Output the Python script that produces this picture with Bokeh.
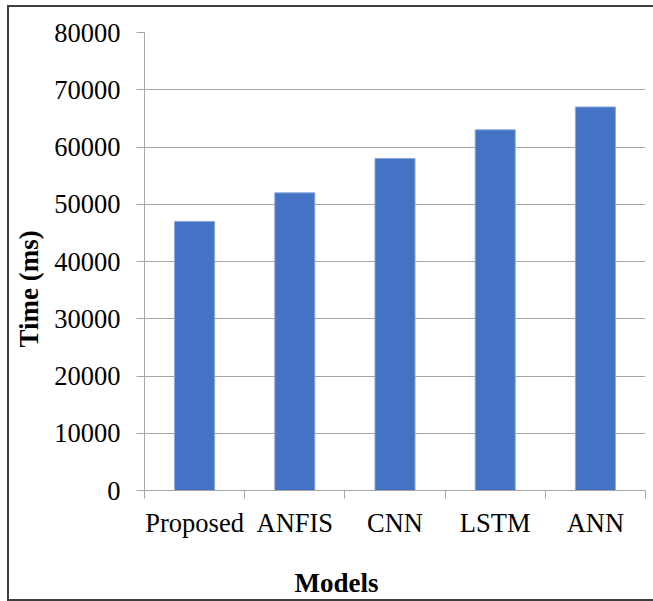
from bokeh.plotting import figure
from bokeh.models import Range1d, FixedTicker, LinearAxis, NumeralTickFormatter, Title
from bokeh.embed import file_html
from bokeh.resources import INLINE

# Execution time of each model
models = ["Proposed", "ANFIS", "CNN", "LSTM", "ANN"]
times_ms = [47000, 52000, 58000, 63000, 67000]
y_ticks = [0, 10000, 20000, 30000, 40000, 50000, 60000, 70000, 80000]

FONT = "Liberation Serif"
GRID = "#a6a6a6"
TICK_SIZE = "26.5px"
TITLE_SIZE = "27px"

# categories sit at the centre of unit-wide slots; ticks mark the slot edges
centers = [i + 0.5 for i in range(len(models))]
edges = list(range(len(models) + 1))

# thin frame round the whole chart, drawn by the page itself
frame_css = """
:host { position: relative; overflow: hidden; }
:host::after {
  content: ""; position: absolute; left: 7px; top: 5px;
  width: 680px; height: 596px; box-sizing: border-box;
  border: 2px solid #3f3f3f; pointer-events: none;
}
"""

p = figure(
    width=653, height=601,
    x_range=Range1d(0, len(models)), y_range=Range1d(0, y_ticks[-1]),
    output_backend="svg", toolbar_location=None,
    min_border_left=144, min_border_right=8, min_border_top=32, min_border_bottom=111,
    stylesheets=[frame_css],
)
p.outline_line_color = None

p.vbar(x=centers, top=times_ms, bottom=0, width=0.4,
       fill_color="#4472c4", line_color="#8faadc", line_width=1)

xa = p.xaxis[0]
xa.ticker = FixedTicker(ticks=centers, minor_ticks=edges)
xa.major_label_overrides = {c: m for c, m in zip(centers, models)}
xa.major_tick_in = 0
xa.major_tick_out = 0
xa.minor_tick_in = 0
xa.minor_tick_out = 8
xa.minor_tick_line_color = GRID
xa.axis_line_color = GRID
xa.major_label_standoff = 9
xa.major_label_text_font = FONT
xa.major_label_text_font_size = TICK_SIZE
xa.major_label_text_color = "black"

ya = p.yaxis[0]
ya.ticker = FixedTicker(ticks=y_ticks)
ya.formatter = NumeralTickFormatter(format="0")
ya.major_tick_in = 0
ya.major_tick_out = 8
ya.minor_tick_line_color = None
ya.major_tick_line_color = GRID
ya.axis_line_color = GRID
ya.major_label_standoff = 16
ya.major_label_text_font = FONT
ya.major_label_text_font_size = TICK_SIZE
ya.major_label_text_color = "black"

p.xgrid.grid_line_color = None
p.ygrid.grid_line_color = GRID

# blank axis (one white tick, no label) used only as vertical room above the x title
gap_tick = len(models)
spacer = LinearAxis(ticker=FixedTicker(ticks=[gap_tick]), major_tick_out=24, major_tick_in=0,
                    major_tick_line_color="white", minor_tick_line_color=None,
                    axis_line_color=None, major_label_standoff=0,
                    major_label_overrides={gap_tick: ""}, major_label_text_font_size="0px")
p.add_layout(spacer, "below")

p.add_layout(Title(text="Models", align="left", offset=150, standoff=2, text_font=FONT,
                   text_font_style="bold", text_font_size=TITLE_SIZE, text_color="black"), "below")
p.add_layout(Title(text="Time (ms)", align="left", offset=143, standoff=16, text_font=FONT,
                   text_font_style="bold", text_font_size=TITLE_SIZE, text_color="black"), "left")

open("out.html", "w").write(file_html(p, INLINE))
